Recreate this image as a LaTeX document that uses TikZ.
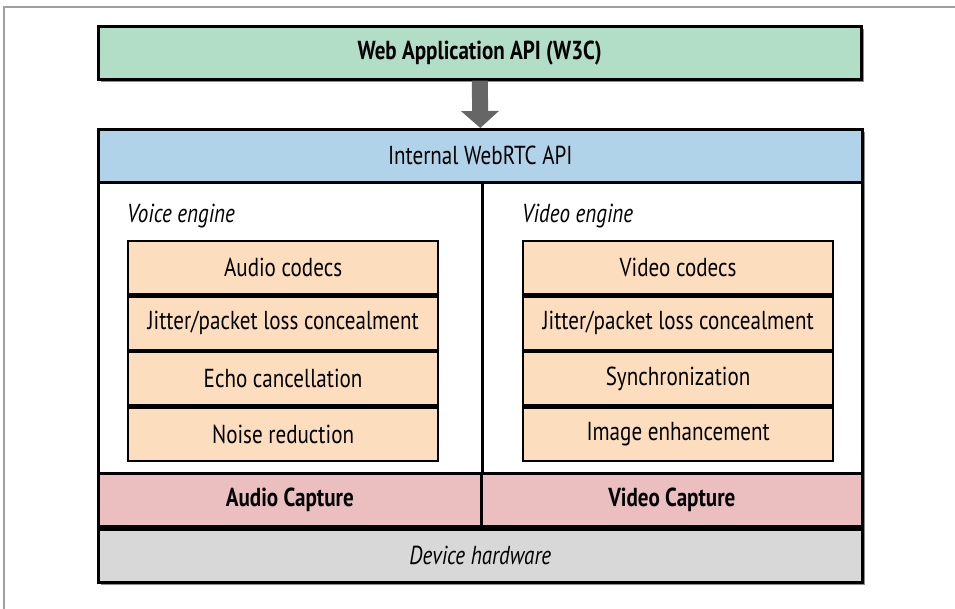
\documentclass[tikz,border=0pt]{standalone}
\usepackage{fontspec}
\setmainfont{PT Sans}[FakeStretch=0.81]
\usepackage{tikz}
\usetikzlibrary{arrows.meta,positioning,shadows}
\definecolor{apigreen}{HTML}{B2DDC6}
\definecolor{apiblue}{HTML}{B1D3EA}
\definecolor{engorange}{HTML}{FCDDBD}
\definecolor{cappink}{HTML}{EBBEC0}
\definecolor{hwgray}{HTML}{D8D8D8}
\definecolor{arrowgray}{HTML}{666666}

\begin{document}
\begin{tikzpicture}[x=1pt,y=1pt,every node/.style={font=\fontsize{26}{30}\selectfont,inner sep=0pt},band/.style={draw,line width=2.6pt,minimum height=53pt,anchor=north west},part/.style={band,line width=2.2pt,fill=engorange,minimum width=310pt,minimum height=53.25pt},shade/.style={drop shadow={shadow xshift=3pt,shadow yshift=-3pt,fill=black,opacity=0.45}},arrow/.style={-{Triangle[width=37pt,length=17pt]},line width=16pt,arrowgray}]
\useasboundingbox (0,0) rectangle (955,-609);
\draw[gray!75,line width=1.2pt] (4,-609) -- (4,-7) -- (955,-7);
% top layer
\node[band,shade,fill=apigreen,minimum width=763pt] (web) at (97,-25) {\bfseries Web Application API (W3C)};
\node[band,shade,fill=white,minimum width=764pt,minimum height=453pt] (outer) at (97,-128) {};
\node[band,fill=apiblue,minimum width=764pt] (api) at (outer.north west) {Internal WebRTC API};
\node[band,fill=hwgray,minimum width=764pt,anchor=south west] (hw) at (outer.south west) {\itshape Device hardware};
\node[band,fill=cappink,minimum width=383pt,anchor=south west] (acap) at (hw.north west) {\bfseries Audio Capture};
\node[band,fill=cappink,minimum width=381pt,anchor=south east] (vcap) at (hw.north east) {\bfseries Video Capture};
\draw[line width=2.6pt] (api.south -| acap.east) -- (acap.north east);
\draw[arrow] (web.south) -- (api.north);
% voice engine
\node[anchor=west] (voice) at (127,-216) {\itshape Voice engine};
\node[part] (a1) at (127,-240) {Audio codecs};
\node[part,below=0pt of a1] (a2) {Jitter/packet loss concealment};
\node[part,below=0pt of a2] (a3) {Echo cancellation};
\node[part,below=0pt of a3] (a4) {Noise reduction};
% video engine
\node[anchor=west] (video) at (522,-216) {\itshape Video engine};
\node[part] (v1) at (522,-240) {Video codecs};
\node[part,below=0pt of v1] (v2) {Jitter/packet loss concealment};
\node[part,below=0pt of v2] (v3) {Synchronization};
\node[part,below=0pt of v3] (v4) {Image enhancement};
\end{tikzpicture}
\end{document}
